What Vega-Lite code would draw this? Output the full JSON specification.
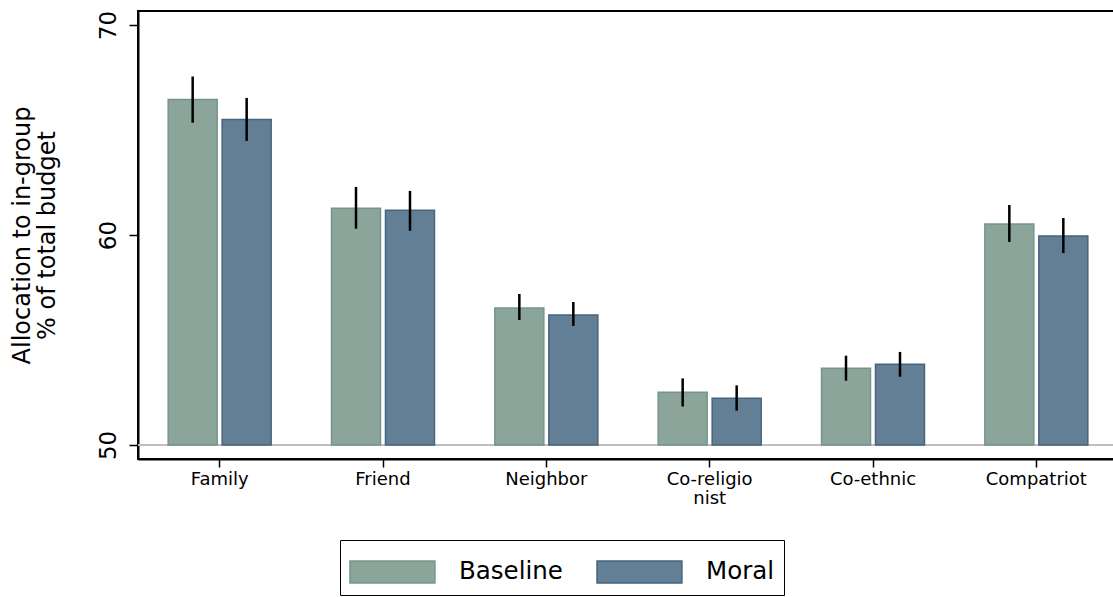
{
  "$schema": "https://vega.github.io/schema/vega-lite/v6.json",
  "width": 980,
  "height": 448,
  "autosize": {"type": "none"},
  "padding": {"left": 138, "top": 11, "right": 0, "bottom": 138},
  "background": "white",
  "config": {
    "font": "DejaVu Sans",
    "view": {"stroke": "black", "strokeWidth": 2},
    "axis": {"grid": false, "domainColor": "black", "domainWidth": 2, "tickColor": "black", "tickWidth": 1.5, "labelColor": "black", "titleColor": "black", "labelFont": "DejaVu Sans", "titleFont": "DejaVu Sans", "titleFontWeight": "normal"},
    "legend": {"labelFont": "DejaVu Sans"}
  },
  "data": {
    "values": [
      {"group": "Family", "condition": "Baseline", "mean": 66.45, "lo": 65.35, "hi": 67.55},
      {"group": "Family", "condition": "Moral", "mean": 65.5, "lo": 64.48, "hi": 66.53},
      {"group": "Friend", "condition": "Baseline", "mean": 61.28, "lo": 60.3, "hi": 62.29},
      {"group": "Friend", "condition": "Moral", "mean": 61.18, "lo": 60.2, "hi": 62.1},
      {"group": "Neighbor", "condition": "Baseline", "mean": 56.52, "lo": 55.95, "hi": 57.19},
      {"group": "Neighbor", "condition": "Moral", "mean": 56.19, "lo": 55.67, "hi": 56.81},
      {"group": "Co-religionist", "condition": "Baseline", "mean": 52.51, "lo": 51.83, "hi": 53.17},
      {"group": "Co-religionist", "condition": "Moral", "mean": 52.22, "lo": 51.63, "hi": 52.84},
      {"group": "Co-ethnic", "condition": "Baseline", "mean": 53.65, "lo": 53.06, "hi": 54.25},
      {"group": "Co-ethnic", "condition": "Moral", "mean": 53.84, "lo": 53.25, "hi": 54.43},
      {"group": "Compatriot", "condition": "Baseline", "mean": 60.52, "lo": 59.67, "hi": 61.43},
      {"group": "Compatriot", "condition": "Moral", "mean": 59.95, "lo": 59.14, "hi": 60.81}
    ]
  },
  "encoding": {
    "x": {
      "field": "group", "type": "nominal", "sort": null,
      "scale": {"paddingInner": 0, "paddingOuter": 0},
      "axis": {"title": null, "labelAngle": 0, "tickSize": 8, "labelFontSize": 18, "labelPadding": 3,
        "labelExpr": "datum.value == 'Co-religionist' ? ['Co-religio', 'nist'] : datum.value", "labelLineHeight": 19}
    },
    "xOffset": {
      "field": "condition", "type": "nominal",
      "scale": {"paddingInner": 0.0926, "paddingOuter": 0.559}
    }
  },
  "layer": [
    {
      "mark": {"type": "rule", "color": "#bfbfbf", "strokeWidth": 2},
      "encoding": {"y": {"datum": 50}, "x": null, "xOffset": null}
    },
    {
      "mark": {"type": "bar", "strokeWidth": 1.5},
      "encoding": {
        "y": {
          "field": "mean", "type": "quantitative",
          "scale": {"domain": [49.33, 70.67], "nice": false, "zero": false},
          "axis": {"values": [50, 60, 70], "tickSize": 9, "labelAngle": -90, "labelAlign": "center", "labelBaseline": "bottom", "labelFontSize": 23, "labelPadding": 9,
            "title": ["Allocation to in-group", "% of total budget"], "titleFontSize": 24, "titlePadding": 38, "titleLineHeight": 25}
        },
        "y2": {"datum": 50},
        "color": {
          "field": "condition", "type": "nominal",
          "scale": {"domain": ["Baseline", "Moral"], "range": ["#8ba59b", "#637f95"]},
          "legend": {"title": null, "orient": "none", "legendX": 202, "legendY": 529, "direction": "horizontal",
            "symbolType": "M-1,-0.5H2.86V0.5H-1Z", "symbolSize": 1936, "symbolStrokeWidth": 1.5, "symbolOpacity": 1,
            "labelFontSize": 24.5, "labelOffset": 64, "columnPadding": 31, "padding": 9, "strokeColor": "black", "fillColor": "white", "labelColor": "black"}
        },
        "stroke": {
          "field": "condition", "type": "nominal",
          "scale": {"domain": ["Baseline", "Moral"], "range": ["#76958a", "#46647e"]}
        }
      }
    },
    {
      "mark": {"type": "rule", "color": "black", "strokeWidth": 2.5},
      "encoding": {
        "y": {"field": "lo", "type": "quantitative"},
        "y2": {"field": "hi"}
      }
    }
  ]
}
